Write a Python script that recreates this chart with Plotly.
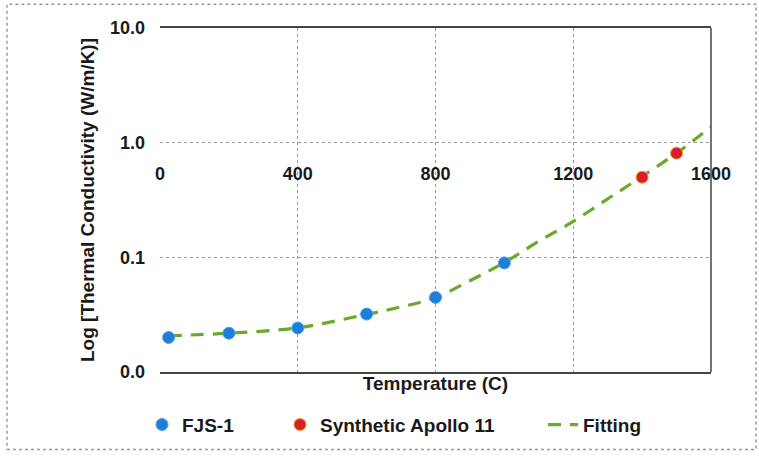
import plotly.graph_objects as go

# ---- data ----
fjs_T = [25, 200, 400, 600, 800, 1000]
fjs_k = [0.0200, 0.0218, 0.0242, 0.0320, 0.0447, 0.0894]

apollo_T = [1400, 1500]
apollo_k = [0.50, 0.81]

fit_T = [25, 200, 400, 600, 700, 800, 900, 1000, 1100, 1200, 1300, 1400, 1500, 1600]
fit_k = [0.0207, 0.0218, 0.0243, 0.0318, 0.0370, 0.0445, 0.0625, 0.090, 0.138, 0.206, 0.323, 0.508, 0.81, 1.37]

x_ticks = [0, 400, 800, 1200, 1600]
y_ticks = [0.01, 0.1, 1, 10]
y_ticktext = ["0.0", "0.1", "1.0", "10.0"]

FONT = "Liberation Sans, Arial, sans-serif"
TXT = "#1a1a1a"

fig = go.Figure()

fig.add_trace(go.Scatter(
    x=fit_T, y=fit_k, mode="lines", name="<b>Fitting</b>",
    line=dict(color="#6aaa2a", width=3.2, dash="13px,9px", shape="spline"),
    legend="legend3",
))
fig.add_trace(go.Scatter(
    x=fjs_T, y=fjs_k, mode="markers", name="<b>FJS-1</b>",
    marker=dict(color="#1f7fd8", size=12, line=dict(color="#4aa0ee", width=1)),
    legend="legend",
))
fig.add_trace(go.Scatter(
    x=apollo_T, y=apollo_k, mode="markers", name="<b>Synthetic Apollo 11</b>",
    marker=dict(color="#d81e28", size=12, line=dict(color="#f0a020", width=1)),
    legend="legend2",
))
# invisible carrier trace so the tick-label axis (x2, crossing at y=1.0) is drawn
fig.add_trace(go.Scatter(
    x=fit_T, y=fit_k, xaxis="x2", mode="lines",
    line=dict(width=0, color="rgba(0,0,0,0)"), hoverinfo="skip", showlegend=False,
))

L, R, T, B = 160, 48, 28, 82
W, H = 759, 456
pw, ph = W - L - R, H - T - B

def px_x(p):
    return (p - L) / pw

def px_y(p):
    return (H - B - p) / ph

legend_common = dict(
    orientation="h", yanchor="middle", y=px_y(427), xanchor="left",
    font=dict(family=FONT, size=19, color=TXT), bgcolor="rgba(0,0,0,0)",
)

fig.update_layout(
    width=W, height=H,
    margin=dict(l=L, r=R, t=T, b=B),
    paper_bgcolor="white", plot_bgcolor="white",
    font=dict(family=FONT, color=TXT),
    showlegend=True,
    legend=dict(x=px_x(142), **legend_common),
    legend2=dict(x=px_x(280), **legend_common),
    legend3=dict(x=px_x(543), **legend_common),
    xaxis=dict(
        range=[0, 1600], tickvals=x_ticks, showticklabels=False,
        showgrid=True, gridcolor="#9a9a9a", griddash="dot", gridwidth=1,
        zeroline=False, showline=True, linecolor="#444444", linewidth=1.5, mirror=True,
        ticks="",
        title=dict(text="<b>Temperature (C)</b>", font=dict(family=FONT, size=19, color=TXT), standoff=4),
    ),
    xaxis2=dict(
        overlaying="x", anchor="free", position=2/3,
        range=[0, 1600], tickvals=x_ticks, ticktext=[f"<b>{v}</b>" for v in x_ticks],
        showgrid=False, zeroline=False, showline=False, ticks="",
        ticklabelstandoff=18,
        tickfont=dict(family=FONT, size=18, color=TXT),
    ),
    yaxis=dict(
        type="log", range=[-2, 1], tickvals=y_ticks,
        ticktext=[f"<b>{t}</b>" for t in y_ticktext],
        tickfont=dict(family=FONT, size=18, color=TXT),
        showgrid=True, gridcolor="#9a9a9a", griddash="dot", gridwidth=1,
        zeroline=False, showline=False, ticks="", ticklabelstandoff=14,
        title=dict(text="<b>Log [Thermal Conductivity (W/m/K)]</b>",
                   font=dict(family=FONT, size=19, color=TXT), standoff=10),
    ),
    shapes=[
        dict(type="line", xref="paper", yref="paper", x0=1, x1=1, y0=0, y1=1,
             line=dict(color="#444444", width=1.5)),
        dict(type="rect", xref="paper", yref="paper",
             x0=px_x(7), x1=px_x(756), y0=px_y(452), y1=px_y(4),
             line=dict(color="#9a9a9a", width=1.5, dash="dot"), layer="below"),
    ],
)

fig.write_html("out.html")
